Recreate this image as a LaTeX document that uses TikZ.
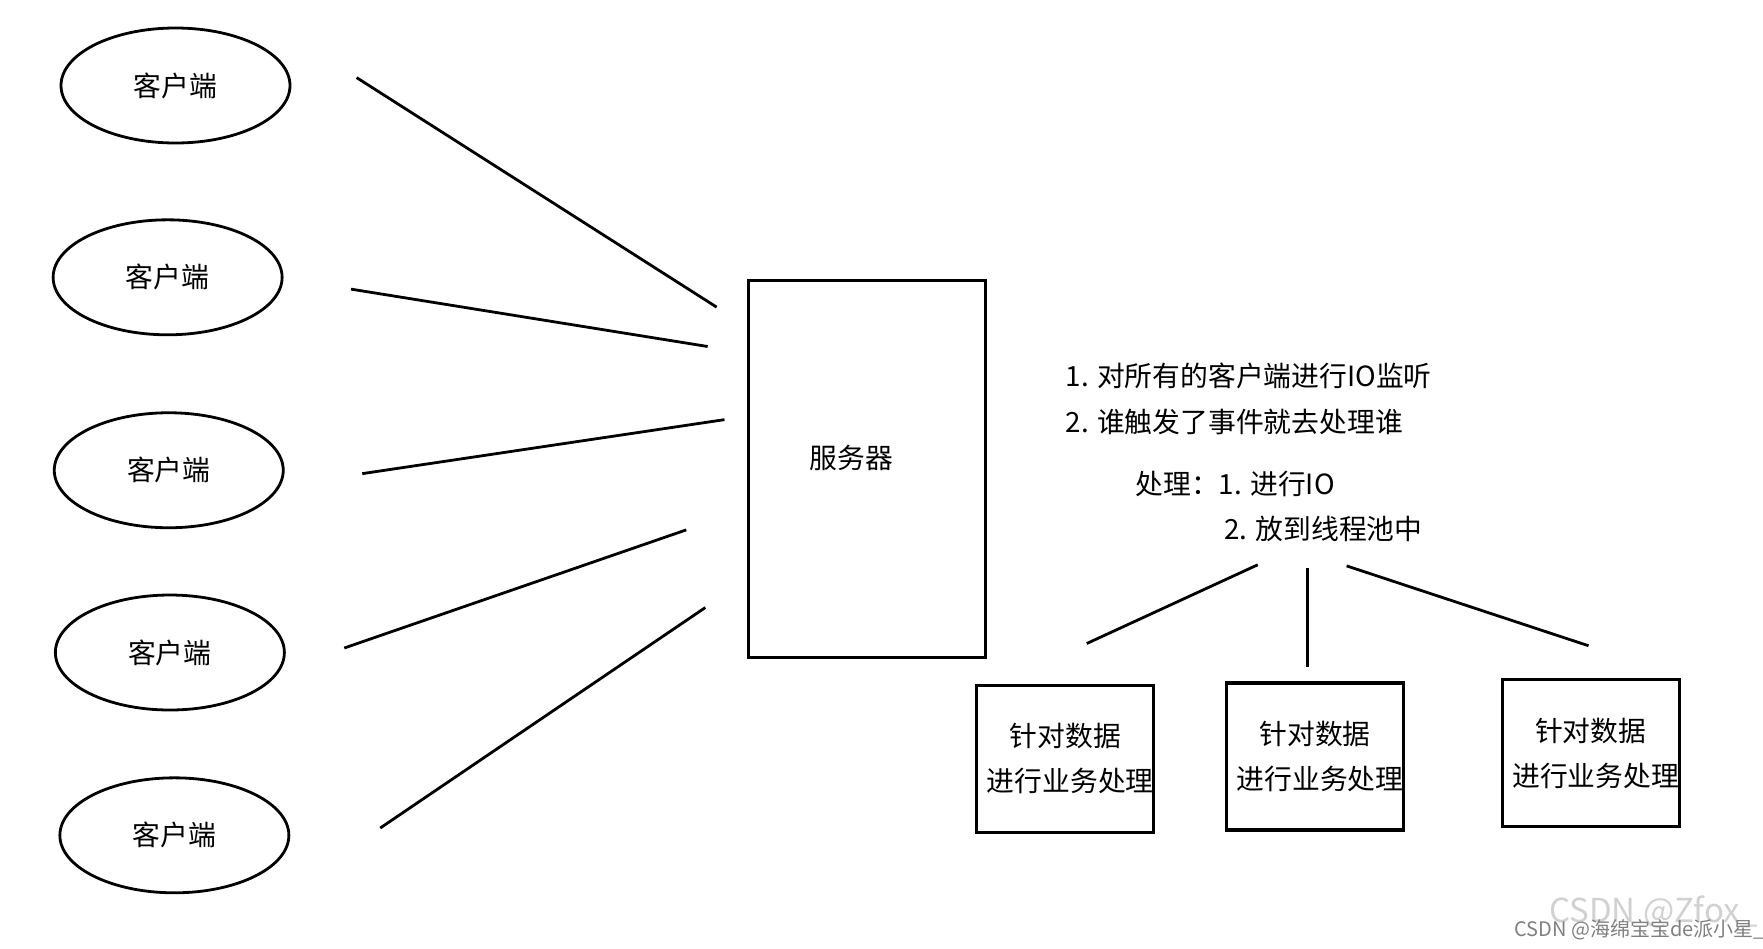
\documentclass[tikz,border=0pt]{standalone}
\usepackage{fontspec}
\setmainfont{Noto Sans CJK SC}
\usetikzlibrary{shapes.geometric}
\begin{document}
\begin{tikzpicture}[x=0.5625pt,y=-0.5625pt,line width=1.4pt,
  every node/.style={font=\fontsize{13.9pt}{22.5pt}\selectfont,inner sep=0pt},
  client/.style={ellipse,draw,minimum width=114.5pt,minimum height=57.5pt},
  taskbox/.style={draw,line width=1.6pt,minimum width=88.5pt,minimum height=73.5pt,align=center},
  note/.style={anchor=west,text height=0.76em,text depth=0pt},
  link/.style={line width=1.4pt}]
\useasboundingbox (0,0) rectangle (1567.1,842.7);
% clients
\node[client] (c1) at (156,76) {客户端};
\node[client] (c2) at (149,246.5) {客户端};
\node[client] (c3) at (150,418) {客户端};
\node[client] (c4) at (151,580) {客户端};
\node[client] (c5) at (155,742.5) {客户端};
% server
\node[draw,line width=1.6pt,minimum width=118.5pt,minimum height=188.5pt] (srv) at (770.5,417) {};
\node (srvt) at (757,407) {服务器};
% connector end points
\coordinate (a1) at (317,69);  \coordinate (b1) at (637,273);
\coordinate (a2) at (312,257); \coordinate (b2) at (629,308);
\coordinate (a3) at (322,421); \coordinate (b3) at (644,373);
\coordinate (a4) at (306,576); \coordinate (b4) at (610,471);
\coordinate (a5) at (338,736); \coordinate (b5) at (627,540);
\draw[link] (a1) -- (b1);
\draw[link] (a2) -- (b2);
\draw[link] (a3) -- (b3);
\draw[link] (a4) -- (b4);
\draw[link] (a5) -- (b5);
% notes
\node[note] (n1) at (946,336.5) {1. 对所有的客户端进行IO监听};
\node[note] (n2) at (946,377.5) {2. 谁触发了事件就去处理谁};
\node[note] (n3) at (1008,432.5) {处理：1. 进行IO};
\node[note] (n4) at (1087,473) {2. 放到线程池中};
% task boxes
\node[taskbox] (t1) at (947,674.5) {针对数据\\\hspace*{5pt}进行业务处理};
\node[taskbox] (t2) at (1169,672.5) {针对数据\\\hspace*{5pt}进行业务处理};
\node[taskbox] (t3) at (1414,669.5) {针对数据\\\hspace*{5pt}进行业务处理};
% lower connectors
\coordinate (d1) at (1118,502); \coordinate (e1) at (966,572);
\coordinate (d2) at (1162,505); \coordinate (e2) at (1162,593);
\coordinate (d3) at (1197,503); \coordinate (e3) at (1412,574);
\draw[link] (d1) -- (e1);
\draw[link] (d2) -- (e2);
\draw[link] (d3) -- (e3);
% watermark
\node[anchor=west,text=black!18,font=\fontsize{16.5pt}{18pt}\selectfont] (w1) at (1376,811) {CSDN @Zfox\_};
\node[anchor=west,text=black!50,font=\fontsize{10pt}{12pt}\selectfont] (w2) at (1345,826.5) {CSDN @海绵宝宝de派小星\_};
\end{tikzpicture}
\end{document}
